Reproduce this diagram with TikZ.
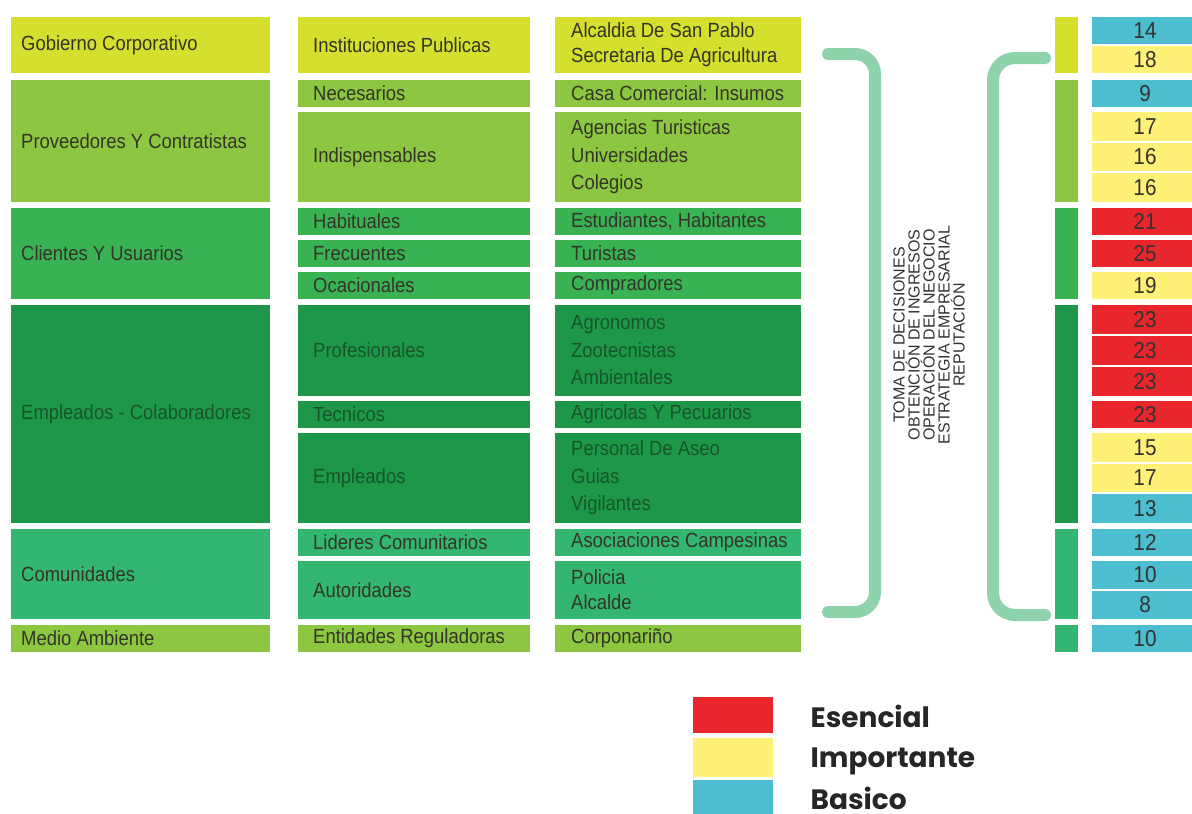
\documentclass[tikz,border=0pt]{standalone}
\usepackage{fontspec}
\setmainfont{Liberation Sans}
\newfontfamily\cellfont[FakeStretch=0.9]{Liberation Sans}
\newfontfamily\keyfont{Poppins}
\usetikzlibrary{positioning}

\definecolor{gobierno}{RGB}{214,222,46}
\definecolor{proveedor}{RGB}{141,198,64}
\definecolor{cliente}{RGB}{56,178,82}
\definecolor{empleado}{RGB}{30,152,72}
\definecolor{comunidad}{RGB}{50,182,114}
\definecolor{bracecol}{RGB}{143,211,172}
\definecolor{esencial}{RGB}{232,38,43}
\definecolor{importante}{RGB}{255,240,120}
\definecolor{basico}{RGB}{76,190,208}
\definecolor{txt}{RGB}{52,52,40}
\definecolor{txtdark}{RGB}{22,84,42}

\begin{document}
\begin{tikzpicture}[x=1pt, y=-1pt,
	cell/.style={anchor=north west, inner sep=0pt, outer sep=0pt},
	c1/.style={cell, minimum width=259pt},
	c2/.style={cell, minimum width=232pt},
	c3/.style={cell, minimum width=246pt},
	lab/.style={anchor=west, inner sep=0pt, align=left, text=txt,
		font=\cellfont\fontsize{20.5}{25}\selectfont},
	t1/.style={lab, xshift=10pt},
	t2/.style={lab, xshift=15pt},
	t3/.style={lab, xshift=16pt},
	tall/.style={font=\cellfont\fontsize{20.5}{27.5}\selectfont},
	dk/.style={text=txtdark},
	num/.style={anchor=north west, inner sep=0pt, outer sep=0pt, minimum width=106pt,
		text=black!80, font=\cellfont\fontsize{23}{23}\selectfont},
	bar/.style={anchor=north west, inner sep=0pt, outer sep=0pt, minimum width=23pt},
	brace/.style={bracecol, line width=12pt, line cap=round},
	key/.style={anchor=north west, inner sep=0pt, minimum width=80pt},
	keytext/.style={inner sep=0pt, text=black!85, font=\keyfont\bfseries\fontsize{28}{28}\selectfont}]

	\useasboundingbox[fill=white] (0,0) rectangle (1192,814);

	\node[c1, fill=gobierno, minimum height=56pt, label={[t1]west:Gobierno Corporativo}] (gob) at (11,17) {};
	\node[c1, fill=proveedor, minimum height=122pt, label={[t1]west:Proveedores Y Contratistas}] (prov) at (11,80) {};
	\node[c1, fill=cliente, minimum height=91pt, label={[t1]west:Clientes Y Usuarios}] (cli) at (11,208) {};
	\node[c1, fill=empleado, minimum height=218pt, label={[t1, dk]west:Empleados - Colaboradores}] (emp) at (11,305) {};
	\node[c1, fill=comunidad, minimum height=90pt, label={[t1]west:Comunidades}] (com) at (11,529) {};
	\node[c1, fill=proveedor, minimum height=27pt, label={[t1]west:Medio Ambiente}] (amb) at (11,625) {};

	\node[c2, fill=gobierno, minimum height=56pt, label={[t2]west:Instituciones Publicas}] (inst) at (298,17) {};
	\node[c2, fill=proveedor, minimum height=27pt, label={[t2]west:Necesarios}] (nec) at (298,80) {};
	\node[c2, fill=proveedor, minimum height=90pt, label={[t2]west:Indispensables}] (indis) at (298,112) {};
	\node[c2, fill=cliente, minimum height=27pt, label={[t2]west:Habituales}] (hab) at (298,208) {};
	\node[c2, fill=cliente, minimum height=27pt, label={[t2]west:Frecuentes}] (frec) at (298,240) {};
	\node[c2, fill=cliente, minimum height=27pt, label={[t2]west:Ocacionales}] (ocas) at (298,272) {};
	\node[c2, fill=empleado, minimum height=91pt, label={[t2, dk]west:Profesionales}] (prof) at (298,305) {};
	\node[c2, fill=empleado, minimum height=27pt, label={[t2, dk]west:Tecnicos}] (tec) at (298,401) {};
	\node[c2, fill=empleado, minimum height=90pt, label={[t2, dk]west:Empleados}] (empl) at (298,433) {};
	\node[c2, fill=comunidad, minimum height=27pt, label={[t2]west:Lideres Comunitarios}] (lid) at (298,529) {};
	\node[c2, fill=comunidad, minimum height=58pt, label={[t2]west:Autoridades}] (aut) at (298,561) {};
	\node[c2, fill=proveedor, minimum height=27pt, label={[t2]west:Entidades Reguladoras}] (reg) at (298,625) {};

	\node[c3, fill=gobierno, minimum height=56pt, label={[t3]west:Alcaldia De San Pablo\\Secretaria De Agricultura}] (alc) at (555,17) {};
	\node[c3, fill=proveedor, minimum height=27pt, label={[t3]west:Casa Comercial: Insumos}] (casa) at (555,80) {};
	\node[c3, fill=proveedor, minimum height=90pt, label={[t3, tall]west:Agencias Turisticas\\Universidades\\Colegios}] (agen) at (555,112) {};
	\node[c3, fill=cliente, minimum height=27pt, label={[t3]west:Estudiantes, Habitantes}] (est) at (555,208) {};
	\node[c3, fill=cliente, minimum height=27pt, label={[t3]west:Turistas}] (tur) at (555,240) {};
	\node[c3, fill=cliente, minimum height=27pt, label={[t3]west:Compradores}] (comp) at (555,272) {};
	\node[c3, fill=empleado, minimum height=91pt, label={[t3, tall, dk]west:Agronomos\\Zootecnistas\\Ambientales}] (agro) at (555,305) {};
	\node[c3, fill=empleado, minimum height=27pt, label={[t3, dk]west:Agricolas Y Pecuarios}] (agri) at (555,401) {};
	\node[c3, fill=empleado, minimum height=90pt, label={[t3, tall, dk]west:Personal De Aseo\\Guias\\Vigilantes}] (aseo) at (555,433) {};
	\node[c3, fill=comunidad, minimum height=27pt, label={[t3]west:Asociaciones Campesinas}] (asoc) at (555,529) {};
	\node[c3, fill=comunidad, minimum height=58pt, label={[t3]west:Policia\\Alcalde}] (pol) at (555,561) {};
	\node[c3, fill=proveedor, minimum height=27pt, label={[t3]west:Corponariño}] (corp) at (555,625) {};

	\draw[brace, rounded corners=20pt] (828,54) -- (875,54) -- (875,612) -- (828,612);
	\draw[brace, rounded corners=22pt] (1045,58) -- (993,58) -- (993,615) -- (1045,615);

	\node[rotate=90, align=center, inner sep=0pt, text=black!80, font=\fontsize{16}{15}\selectfont] (metas) at (929,335)
		{TOMA DE DECISIONES\\OBTENCIÓN DE INGRESOS\\OPERACIÓN DEL NEGOCIO\\ESTRATEGIA EMPRESARIAL\\REPUTACIÓN};

	\node[bar, fill=gobierno, minimum height=56pt] (b1) at (1055,17) {};
	\node[bar, fill=proveedor, minimum height=122pt] (b2) at (1055,80) {};
	\node[bar, fill=cliente, minimum height=91pt] (b3) at (1055,208) {};
	\node[bar, fill=empleado, minimum height=218pt] (b4) at (1055,305) {};
	\node[bar, fill=comunidad, minimum height=90pt] (b5) at (1055,529) {};
	\node[bar, fill=comunidad, minimum height=27pt] (b6) at (1055,625) {};

	\node[num, fill=basico, minimum height=27pt] (n1) at (1092,17) {14};
	\node[num, fill=importante, minimum height=27pt] (n2) at (1092,46) {18};
	\node[num, fill=basico, minimum height=27pt] (n3) at (1092,80) {9};
	\node[num, fill=importante, minimum height=28.7pt] (n4) at (1092,112) {17};
	\node[num, fill=importante, minimum height=28.7pt] (n5) at (1092,142.7) {16};
	\node[num, fill=importante, minimum height=28.7pt] (n6) at (1092,173.3) {16};
	\node[num, fill=esencial, minimum height=27pt] (n7) at (1092,208) {21};
	\node[num, fill=esencial, minimum height=27pt] (n8) at (1092,240) {25};
	\node[num, fill=importante, minimum height=27pt] (n9) at (1092,272) {19};
	\node[num, fill=esencial, minimum height=29pt] (n10) at (1092,305) {23};
	\node[num, fill=esencial, minimum height=29pt] (n11) at (1092,336) {23};
	\node[num, fill=esencial, minimum height=29pt] (n12) at (1092,367) {23};
	\node[num, fill=esencial, minimum height=27pt] (n13) at (1092,401) {23};
	\node[num, fill=importante, minimum height=28.7pt] (n14) at (1092,433) {15};
	\node[num, fill=importante, minimum height=28.7pt] (n15) at (1092,463.7) {17};
	\node[num, fill=basico, minimum height=28.7pt] (n16) at (1092,494.3) {13};
	\node[num, fill=basico, minimum height=27pt] (n17) at (1092,529) {12};
	\node[num, fill=basico, minimum height=28pt] (n18) at (1092,561) {10};
	\node[num, fill=basico, minimum height=28pt] (n19) at (1092,591) {8};
	\node[num, fill=basico, minimum height=27pt] (n20) at (1092,625) {10};

	\node[key, fill=esencial, minimum height=36pt] (kesen) at (693,697) {};
	\node[key, fill=importante, minimum height=39pt] (kimp) at (693,738) {};
	\node[key, fill=basico, minimum height=40pt] (kbas) at (693,780) {};
	\node[keytext, right=37pt of kesen, yshift=-1pt] (tesen) {Esencial};
	\node[keytext, right=37pt of kimp, yshift=-4pt] (timp) {Importante};
	\node[keytext, right=37pt of kbas, yshift=2pt] (tbas) {Basico};

\end{tikzpicture}
\end{document}
